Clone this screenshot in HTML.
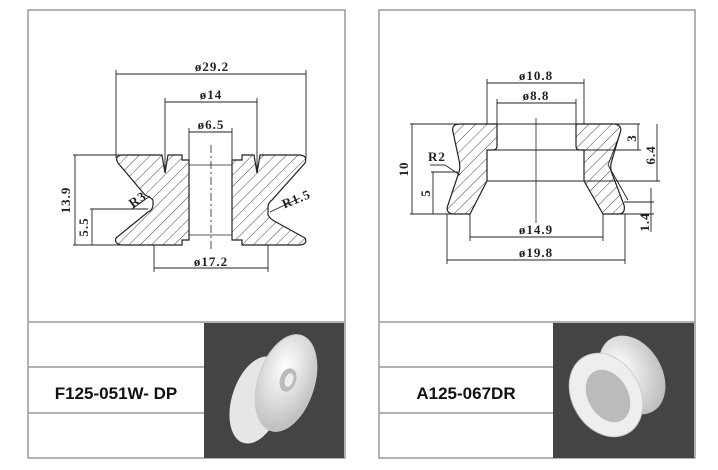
<!DOCTYPE html>
<html><head><meta charset="utf-8"><style>
html,body{margin:0;padding:0;background:#fff;}
svg{display:block;}
text{font-family:"Liberation Serif",serif;font-weight:bold;fill:#222;}
.d{font-size:13px;letter-spacing:1px;}
.lbl{font-family:"Liberation Sans",sans-serif;font-weight:bold;font-size:17px;fill:#111;letter-spacing:0;}
</style></head><body>
<svg width="718" height="470" viewBox="0 0 718 470" xmlns="http://www.w3.org/2000/svg">
<defs>
<pattern id="h" width="8" height="8" patternUnits="userSpaceOnUse" patternTransform="rotate(45)">
<line x1="0" y1="0" x2="0" y2="8" stroke="#333" stroke-width="0.9"/>
</pattern>
<radialGradient id="g1" cx="0.4" cy="0.35" r="0.7"><stop offset="0" stop-color="#fff"/><stop offset="1" stop-color="#bbb"/></radialGradient>
</defs>
<g fill="none" stroke="#999" stroke-width="1.5">
<rect x="28" y="10" width="317" height="448"/>
<rect x="379" y="10" width="316" height="448"/>
<line x1="28" y1="322" x2="345" y2="322"/>
<line x1="379" y1="322" x2="695" y2="322"/>
<line x1="28" y1="367" x2="204" y2="367"/>
<line x1="28" y1="413" x2="204" y2="413"/>
<line x1="379" y1="367" x2="553" y2="367"/>
<line x1="379" y1="413" x2="553" y2="413"/>
</g>
<rect x="204" y="323" width="140" height="135" fill="#444"/>
<rect x="553" y="323" width="141" height="135" fill="#444"/>
<text class="lbl" x="116" y="399" text-anchor="middle">F125-051W- DP</text>
<text class="lbl" x="466" y="399" text-anchor="middle">A125-067DR</text>

<g>
<ellipse cx="257" cy="400" rx="25" ry="45" transform="rotate(18 257 400)" fill="#e6e6e6"/>
<ellipse cx="286" cy="383" rx="28" ry="50" transform="rotate(18 286 383)" fill="url(#g1)" stroke="#ccc"/>
<ellipse cx="288" cy="380" rx="8" ry="12" transform="rotate(18 288 380)" fill="#bbb"/>
<ellipse cx="289" cy="380" rx="4" ry="7" transform="rotate(18 289 380)" fill="#eee"/>
</g>
<g>
<ellipse cx="632" cy="375" rx="30" ry="42" transform="rotate(-30 632 375)" fill="url(#g1)"/>
<ellipse cx="606" cy="395" rx="34" ry="44" transform="rotate(-30 606 395)" fill="#eee" stroke="#ccc"/>
<ellipse cx="608" cy="396" rx="20" ry="28" transform="rotate(-30 608 396)" fill="#bbb"/>
</g>

<g stroke="#222" stroke-width="1.2">
<path fill="url(#h)" d="M122,155 L162,155 L165,173 L168,155 L182,155 L182,160 L189,160 L189,240 L182,240 L182,245 L122,245 Q114,244 116,238 L148,212 Q153,210 153,205 L153,200 Q150,197 145,195 L118,163 Q114,156 122,155 Z"/>
<path fill="url(#h)" d="M242,155 L254,155 L257,173 L260,155 L300,155 Q308,156 305,163 L272,200 Q268,203 268,207 L268,215 Q270,219 276,222 L305,238 Q308,244 300,245 L242,245 L242,240 L232,240 L232,160 L242,160 Z"/>
<path fill="none" stroke-width="0.7" d="M189,165 L232,165 M189,235 L232,235"/>
<line x1="211" y1="145" x2="211" y2="250" stroke-dasharray="8,3,2,3" stroke-width="0.8"/>
<g stroke-width="0.9">
<line x1="116" y1="74" x2="306" y2="74"/><line x1="116" y1="70" x2="116" y2="158"/><line x1="306" y1="70" x2="306" y2="158"/>
<line x1="165" y1="102" x2="257" y2="102"/><line x1="165" y1="98" x2="165" y2="170"/><line x1="257" y1="98" x2="257" y2="170"/>
<line x1="189" y1="132" x2="232" y2="132"/><line x1="189" y1="128" x2="189" y2="160"/><line x1="232" y1="128" x2="232" y2="160"/>
<line x1="73" y1="155" x2="120" y2="155"/><line x1="73" y1="245" x2="120" y2="245"/>
<line x1="75" y1="155" x2="75" y2="245"/>
<line x1="90" y1="209" x2="148" y2="209"/><line x1="92" y1="209" x2="92" y2="245"/>
<line x1="154" y1="245" x2="154" y2="272"/><line x1="268" y1="245" x2="268" y2="272"/>
<line x1="154" y1="268" x2="268" y2="268"/>
<line x1="132" y1="209" x2="150" y2="196"/>
<line x1="270" y1="212" x2="300" y2="198"/>
</g>
</g>
<g class="d">
<text x="212" y="71" text-anchor="middle">ø29.2</text>
<text x="211" y="99" text-anchor="middle">ø14</text>
<text x="211" y="129" text-anchor="middle">ø6.5</text>
<text x="211" y="266" text-anchor="middle">ø17.2</text>
<text transform="translate(70,200) rotate(-90)" text-anchor="middle">13.9</text>
<text transform="translate(88,227) rotate(-90)" text-anchor="middle">5.5</text>
<text transform="translate(140,203) rotate(-35)" text-anchor="middle">R3</text>
<text transform="translate(298,203) rotate(-22)" text-anchor="middle">R1.5</text>
</g>

<g stroke="#222" stroke-width="1.2">
<path fill="url(#h)" d="M460,124 L497,124 L497,146 Q497,150 493,150 L487,150 L487,181 L470,214 L452,214 Q445,212 448,205 L458,175 Q461,168 459,160 L453,132 Q451,124 460,124 Z"/>
<path fill="url(#h)" d="M576,124 L615,124 Q623,126 620,133 L612,160 Q609,168 613,176 L624,205 Q626,214 618,214 L603,214 L584,181 L584,150 L580,150 Q576,150 576,146 Z"/>
<line x1="487" y1="150" x2="584" y2="150" stroke-width="0.9"/>
<line x1="487" y1="181" x2="584" y2="181" stroke-width="0.9"/>
<line x1="536" y1="118" x2="536" y2="223" stroke-width="0.8"/>
<g stroke-width="0.9">
<line x1="487" y1="83" x2="584" y2="83"/><line x1="487" y1="79" x2="487" y2="124"/><line x1="584" y1="79" x2="584" y2="124"/>
<line x1="497" y1="103" x2="576" y2="103"/><line x1="497" y1="99" x2="497" y2="124"/><line x1="576" y1="99" x2="576" y2="124"/>
<line x1="410" y1="124" x2="640" y2="124"/><line x1="410" y1="214" x2="470" y2="214"/>
<line x1="412" y1="124" x2="412" y2="214"/>
<line x1="431" y1="172" x2="458" y2="172"/><line x1="433" y1="172" x2="433" y2="214"/>
<line x1="584" y1="150" x2="641" y2="150"/><line x1="638" y1="124" x2="638" y2="150"/>
<line x1="584" y1="181" x2="660" y2="181"/><line x1="657" y1="124" x2="657" y2="181"/>
<line x1="624" y1="202" x2="654" y2="202"/><line x1="603" y1="214" x2="654" y2="214"/>
<line x1="651" y1="188" x2="651" y2="232"/>
<line x1="470" y1="214" x2="470" y2="241"/><line x1="603" y1="214" x2="603" y2="241"/>
<line x1="470" y1="237" x2="603" y2="237"/>
<line x1="447" y1="214" x2="447" y2="264"/><line x1="625" y1="214" x2="625" y2="264"/>
<line x1="447" y1="260" x2="625" y2="260"/>
<line x1="430" y1="165" x2="445" y2="165"/><line x1="445" y1="165" x2="460" y2="175"/>
<line x1="620" y1="134" x2="608" y2="165"/><line x1="608" y1="165" x2="628" y2="200"/>
</g>
</g>
<g class="d">
<text x="536" y="80" text-anchor="middle">ø10.8</text>
<text x="536" y="100" text-anchor="middle">ø8.8</text>
<text x="536" y="234" text-anchor="middle">ø14.9</text>
<text x="536" y="257" text-anchor="middle">ø19.8</text>
<text x="437" y="161" text-anchor="middle">R2</text>
<text transform="translate(408,169) rotate(-90)" text-anchor="middle">10</text>
<text transform="translate(430,193) rotate(-90)" text-anchor="middle">5</text>
<text transform="translate(636,138) rotate(-90)" text-anchor="middle">3</text>
<text transform="translate(655,155) rotate(-90)" text-anchor="middle">6.4</text>
<text transform="translate(649,222) rotate(-90)" text-anchor="middle">1.4</text>
</g>
</svg>
</body></html>
